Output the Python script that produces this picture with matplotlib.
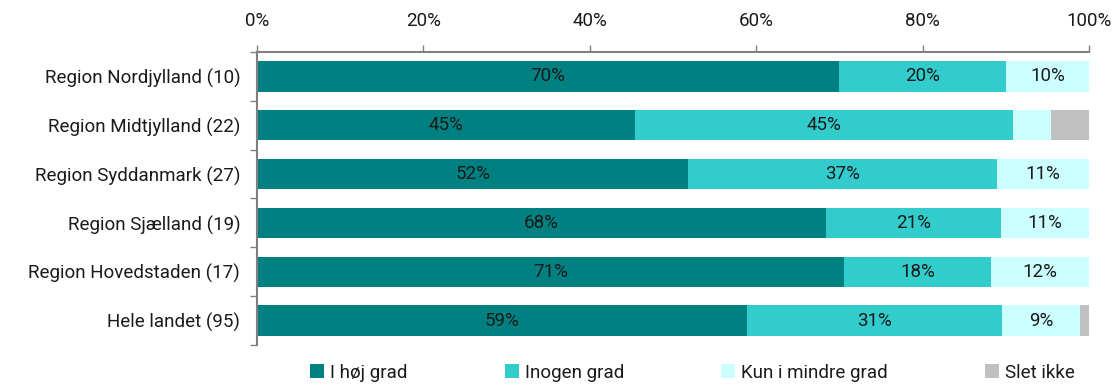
import numpy as np
import matplotlib
matplotlib.use('Agg')
import matplotlib.pyplot as plt
from matplotlib.patches import Patch

# data: share of respondents per answer (in %)
regions = ['Region Nordjylland (10)', 'Region Midtjylland (22)', 'Region Syddanmark (27)',
           'Region Sjælland (19)', 'Region Hovedstaden (17)', 'Hele landet (95)']
hoej = [70.0, 45.45, 51.85, 68.42, 70.59, 58.95]
nogen = [20.0, 45.45, 37.04, 21.05, 17.65, 30.53]
mindre = [10.0, 4.55, 11.11, 10.53, 11.76, 9.47]
slet = [0.0, 4.55, 0.0, 0.0, 0.0, 1.05]
answers = ['I høj grad', 'Inogen grad', 'Kun i mindre grad', 'Slet ikke']
colors = ['#008080', '#33cccc', '#ccffff', '#c0c0c0']

plt.rcParams['font.family'] = ['Roboto', 'DejaVu Sans']
txt = '#1a1a1a'
grey = '#808080'
fs = 13.5

fig = plt.figure(figsize=(11.17, 3.85), dpi=100)
ax = fig.add_axes([0.230, 0.104, 0.745, 0.761])

y = np.arange(len(regions))
left = np.zeros(len(regions))
for vals, col in zip([hoej, nogen, mindre, slet], colors):
    vals = np.array(vals)
    ax.barh(y, vals, left=left, height=0.62, color=col, edgecolor='none')
    for yi, l, v in zip(y, left, vals):
        if v >= 8:
            ax.text(l + v / 2, yi, '%d%%' % round(v), ha='center', va='center',
                    fontsize=fs, color=txt)
    left = left + vals

ax.set_xlim(0, 100)
ax.set_ylim(5.5, -0.5)
ax.xaxis.tick_top()
ax.set_xticks([0, 20, 40, 60, 80, 100])
ax.set_xticklabels(['0%', '20%', '40%', '60%', '80%', '100%'])
ax.tick_params(axis='x', length=5, width=1, color=grey, pad=11, labelsize=fs, labelcolor=txt)

ax.set_yticks(y)
ax.set_yticklabels(regions)
ax.set_yticks(np.arange(-0.5, 6, 1), minor=True)
ax.tick_params(axis='y', which='major', length=0, pad=12, labelsize=fs, labelcolor=txt)
ax.tick_params(axis='y', which='minor', length=5, width=1, color=grey)

for s in ['right', 'bottom']:
    ax.spines[s].set_visible(False)
for s in ['left', 'top']:
    ax.spines[s].set_color(grey)
    ax.spines[s].set_linewidth(1.5)

handles = [Patch(facecolor=c, edgecolor='none') for c in colors]
fig.legend(handles, answers, loc='lower center', bbox_to_anchor=(0.62, -0.035), ncol=4,
           frameon=False, fontsize=fs, handlelength=0.75, handleheight=0.75,
           handletextpad=0.3, columnspacing=5.2, labelcolor=txt)

fig.savefig('out.png', dpi=100)
